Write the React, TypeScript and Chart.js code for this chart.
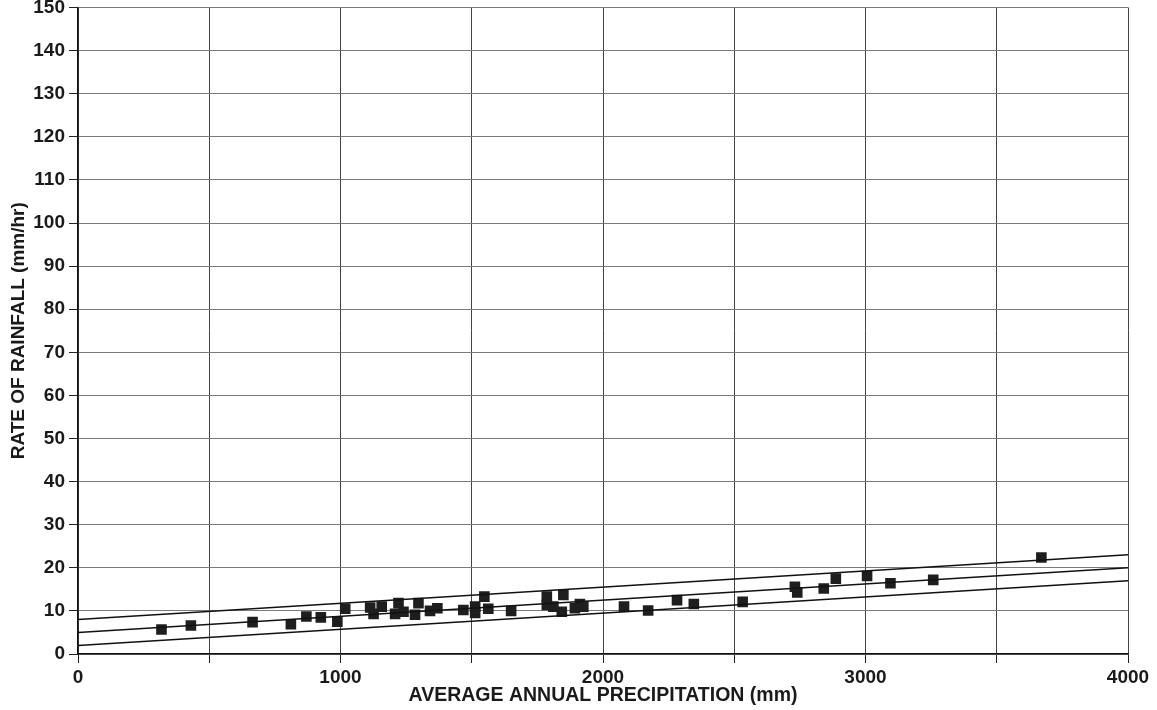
import React, { useEffect, useRef } from "react";
import { Chart, registerables } from "chart.js";

Chart.register(...registerables);

const precipMm: number[] = [
  318, 430, 665, 811, 870, 925, 988, 1018, 1113, 1126, 1157, 1208, 1221, 1240, 1284, 1297, 1341, 1369,
  1468, 1513, 1513, 1548, 1563, 1650, 1786, 1786, 1811, 1843, 1849, 1893, 1912, 1925, 2080, 2172, 2282,
  2346, 2532, 2731, 2740, 2841, 2887, 3006, 3095, 3258, 3670,
];
const rateMmHr: number[] = [
  5.7, 6.6, 7.4, 6.9, 8.7, 8.5, 7.5, 10.5, 10.8, 9.3, 11.0, 9.3, 11.8, 9.8, 9.1, 11.8, 10.0, 10.6,
  10.2, 11.0, 9.5, 13.3, 10.5, 10.0, 13.3, 11.4, 11.0, 9.8, 13.7, 10.6, 11.6, 11.0, 11.0, 10.1, 12.5,
  11.6, 12.1, 15.6, 14.3, 15.2, 17.5, 18.1, 16.4, 17.2, 22.4,
];
const lineX: number[] = [0, 4000];
const upperY: number[] = [8, 23];
const middleY: number[] = [5, 20];
const lowerY: number[] = [2, 17];
const xTickLabels: number[] = [0, 1000, 2000, 3000, 4000];

const FONT = '"Liberation Sans", Arial, Helvetica, sans-serif';

export default function App() {
  const ref = useRef<HTMLCanvasElement | null>(null);
  useEffect(() => {
    document.body.style.margin = "0";
    const ctx = ref.current!;
    const mkLine = (ys: number[]) => ({
      type: "line" as const,
      data: lineX.map((x, i) => ({ x, y: ys[i] })),
      borderColor: "#111",
      borderWidth: 1.5,
      pointRadius: 0,
      showLine: true,
      fill: false,
    });
    const chart = new Chart(ctx, {
      type: "scatter",
      data: {
        datasets: [
          mkLine(upperY) as any,
          mkLine(middleY) as any,
          mkLine(lowerY) as any,
          {
            type: "scatter",
            data: precipMm.map((x, i) => ({ x, y: rateMmHr[i] })),
            pointStyle: "rect",
            pointRadius: 7.5,
            backgroundColor: "#1e1e1e",
            borderColor: "#1e1e1e",
            borderWidth: 0,
          },
        ],
      },
      options: {
        animation: false,
        responsive: false,
        maintainAspectRatio: false,
        layout: { padding: { top: 5, right: 29, left: 0, bottom: 0 } },
        plugins: { legend: { display: false }, tooltip: { enabled: false } },
        scales: {
          x: {
            type: "linear",
            min: 0,
            max: 4000,
            ticks: {
              stepSize: 500,
              autoSkip: false,
              maxRotation: 0,
              padding: 3,
              color: "#1a1a1a",
              font: { family: FONT, size: 19, weight: "bold" },
              callback: (v: any) => (xTickLabels.includes(Number(v)) ? String(v) : ""),
            },
            grid: { color: "#444", lineWidth: 1, tickLength: 9, tickColor: "#222" },
            border: { color: "#111", width: 1.5 },
            title: {
              display: true,
              text: "AVERAGE ANNUAL PRECIPITATION (mm)",
              color: "#1a1a1a",
              font: { family: FONT, size: 19.5, weight: "bold" },
              padding: { top: 0, bottom: 3 },
            },
            afterFit: (s: any) => {
              s.height = 56;
              s.paddingLeft = 0;
              s.paddingRight = 0;
            },
          },
          y: {
            type: "linear",
            min: 0,
            max: 150,
            ticks: {
              stepSize: 10,
              padding: 4,
              color: "#1a1a1a",
              font: { family: FONT, size: 19, weight: "bold" },
            },
            grid: { color: "#7a7a7a", lineWidth: 1, tickLength: 9, tickColor: "#222" },
            border: { color: "#111", width: 1.5 },
            title: {
              display: true,
              text: "RATE OF RAINFALL (mm/hr)",
              color: "#1a1a1a",
              font: { family: FONT, size: 19, weight: "bold" },
              padding: { top: 7.5, bottom: 0 },
            },
            afterFit: (s: any) => {
              s.width = 78;
              s.paddingTop = 0;
              s.paddingBottom = 0;
            },
          },
        },
      },
    });
    return () => chart.destroy();
  }, []);
  return (
    <div style={{ position: "absolute", left: 0, top: 0, width: 1157, height: 710, background: "#fff" }}>
      <canvas ref={ref} width={1157} height={710} style={{ display: "block", width: 1157, height: 710 }} />
    </div>
  );
}
